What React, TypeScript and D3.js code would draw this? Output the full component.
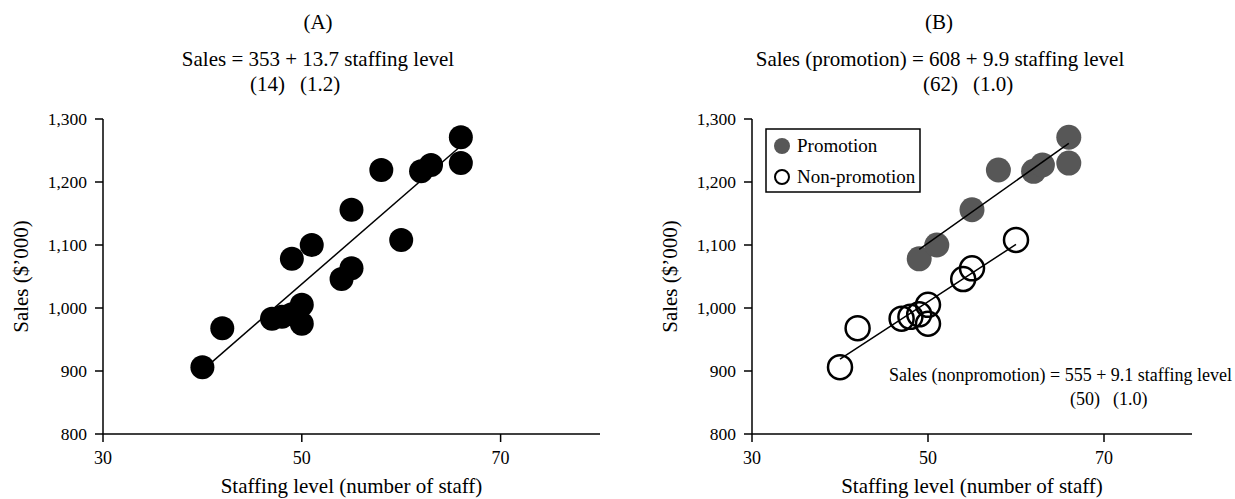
import React from "react";
import * as d3 from "d3";

// ---- Data ----
const promoX = [49, 51, 55, 58, 62, 63, 66, 66];
const promoY = [1078, 1100, 1156, 1219, 1217, 1227, 1271, 1230];
const nonPromoX = [40, 42, 47, 48, 49, 50, 50, 54, 55, 60];
const nonPromoY = [906, 968, 983, 986, 990, 1005, 975, 1046, 1063, 1108];

const xTicks = [30, 50, 70];
const yTicks = [800, 900, 1000, 1100, 1200, 1300];

// regression lines: [intercept, slope, xStart, xEnd]
const fitAll = [353, 13.7, 40, 66];
const fitPromo = [608, 9.9, 49, 66];
const fitNonPromo = [555, 9.1, 40, 60];

const titleA = "(A)";
const titleB = "(B)";
const eqA = "Sales = 353 + 13.7 staffing level";
const seA = ["(14)", "(1.2)"];
const eqB = "Sales (promotion) = 608 + 9.9 staffing level";
const seB = ["(62)", "(1.0)"];
const eqC = "Sales (nonpromotion) = 555 + 9.1 staffing level";
const seC = ["(50)", "(1.0)"];
const xLabel = "Staffing level (number of staff)";
const yLabel = "Sales ($\u2019000)";
const legendLabels = ["Promotion", "Non-promotion"];

const FONT = "'Liberation Serif', 'Times New Roman', Times, serif";
const GRAY = "#575757";

const yScale = d3.scaleLinear().domain([800, 1300]).range([434, 119]);
const fmt = d3.format(",");

function Axes({ x }: { x: d3.ScaleLinear<number, number> }) {
  const [x0, x1] = x.range();
  const y0 = yScale(800);
  const y1 = yScale(1300);
  return (
    <g fontFamily={FONT} fill="#000">
      <line x1={x0} x2={x1} y1={y0} y2={y0} stroke="#000" strokeWidth={1.5} />
      <line x1={x0} x2={x0} y1={y0} y2={y1} stroke="#000" strokeWidth={1.5} />
      {xTicks.map((t) => (
        <g key={"x" + t}>
          <line x1={x(t)} x2={x(t)} y1={y0} y2={y0 + 8} stroke="#000" strokeWidth={1.5} />
          <text x={x(t)} y={464} textAnchor="middle" fontSize={18}>
            {t}
          </text>
        </g>
      ))}
      {yTicks.map((t) => (
        <g key={"y" + t}>
          <line x1={x0 - 8} x2={x0} y1={yScale(t)} y2={yScale(t)} stroke="#000" strokeWidth={1.5} />
          <text x={x0 - 16} y={yScale(t) + 6} textAnchor="end" fontSize={17.5}>
            {fmt(t)}
          </text>
        </g>
      ))}
      <text x={(x0 + x1) / 2} y={493} textAnchor="middle" fontSize={21}>
        {xLabel}
      </text>
      <text
        transform={`translate(${x0 - 75},${(y0 + y1) / 2}) rotate(-90)`}
        textAnchor="middle"
        fontSize={21}
      >
        {yLabel}
      </text>
    </g>
  );
}

function fitLine(x: d3.ScaleLinear<number, number>, f: number[]) {
  const [a, b, s, e] = f;
  const pts: [number, number][] = [s, e].map((v) => [x(v), yScale(a + b * v)]);
  return d3.line()(pts) || "";
}

export default function App() {
  const xA = d3.scaleLinear().domain([30, 80]).range([103, 600]);
  const xB = d3.scaleLinear().domain([30, 80]).range([752, 1192]);
  const allX = [...promoX, ...nonPromoX];
  const allY = [...promoY, ...nonPromoY];

  return (
    <svg
      width={1235}
      height={499}
      style={{ position: "absolute", left: 0, top: 0, background: "#fff" }}
      fontFamily={FONT}
    >
      {/* Panel A */}
      <text x={318} y={29} textAnchor="middle" fontSize={21}>{titleA}</text>
      <text x={318} y={66} textAnchor="middle" fontSize={21}>{eqA}</text>
      <text x={250} y={91} fontSize={21}>{seA[0]}</text>
      <text x={300} y={91} fontSize={21}>{seA[1]}</text>
      <Axes x={xA} />
      {allX.map((v, i) => (
        <circle key={"a" + i} cx={xA(v)} cy={yScale(allY[i])} r={12} fill="#000" />
      ))}
      <path d={fitLine(xA, fitAll)} stroke="#000" strokeWidth={1.5} fill="none" />

      {/* Panel B */}
      <text x={939} y={29} textAnchor="middle" fontSize={21}>{titleB}</text>
      <text x={940} y={66} textAnchor="middle" fontSize={21}>{eqB}</text>
      <text x={923} y={91} fontSize={21}>{seB[0]}</text>
      <text x={973} y={91} fontSize={21}>{seB[1]}</text>
      <Axes x={xB} />
      {promoX.map((v, i) => (
        <circle key={"p" + i} cx={xB(v)} cy={yScale(promoY[i])} r={12.5} fill={GRAY} />
      ))}
      {nonPromoX.map((v, i) => (
        <circle
          key={"n" + i}
          cx={xB(v)}
          cy={yScale(nonPromoY[i])}
          r={12}
          fill="none"
          stroke="#000"
          strokeWidth={2.5}
        />
      ))}
      <path d={fitLine(xB, fitPromo)} stroke="#000" strokeWidth={1.5} fill="none" />
      <path d={fitLine(xB, fitNonPromo)} stroke="#000" strokeWidth={1.5} fill="none" />
      <text x={1232} y={381} fontSize={18} textAnchor="end">{eqC}</text>
      <text x={1070} y={405} fontSize={18}>{seC[0]}</text>
      <text x={1113} y={405} fontSize={18}>{seC[1]}</text>

      {/* Legend */}
      <rect x={766} y={129} width={154} height={63} fill="#fff" stroke="#000" strokeWidth={1.5} />
      <circle cx={782} cy={146} r={8} fill={GRAY} />
      <circle cx={782} cy={177} r={7} fill="none" stroke="#000" strokeWidth={2} />
      <text x={797} y={152} fontSize={19}>{legendLabels[0]}</text>
      <text x={797} y={183} fontSize={19}>{legendLabels[1]}</text>
    </svg>
  );
}
